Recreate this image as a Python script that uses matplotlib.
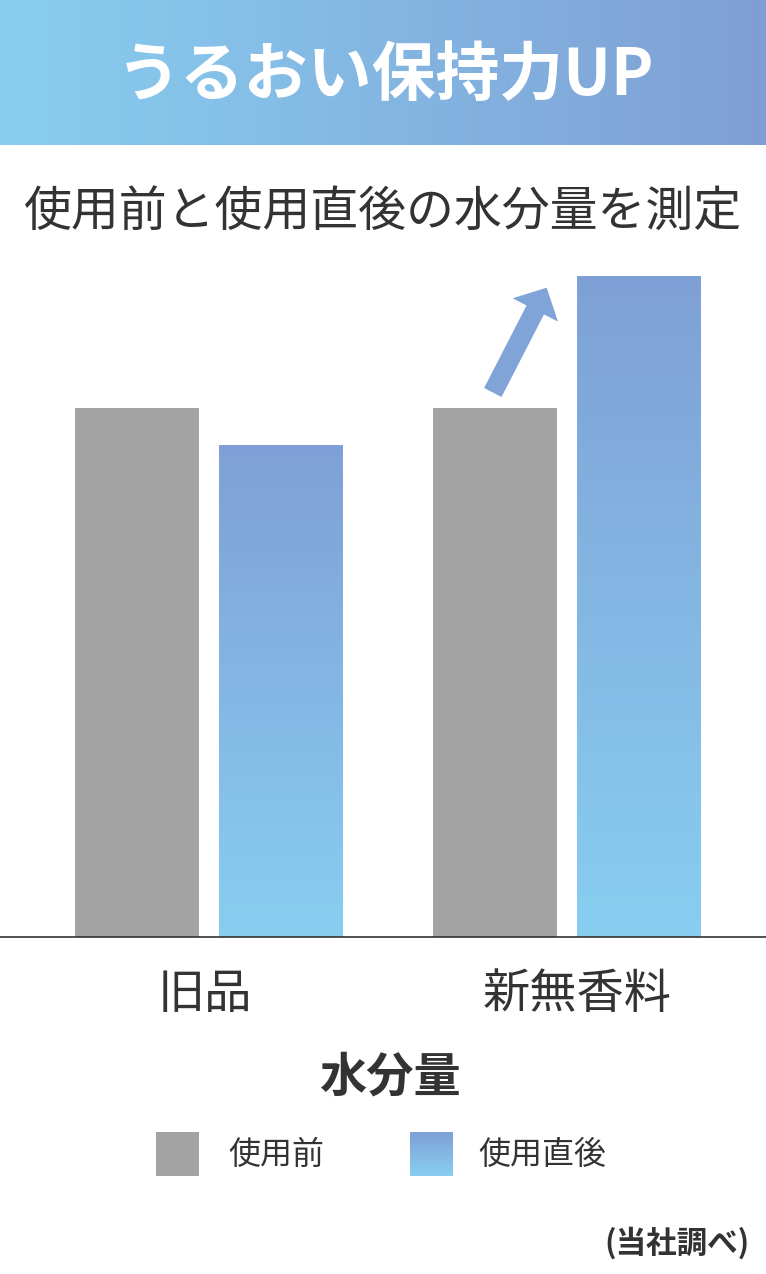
import matplotlib

matplotlib.use("Agg")

import matplotlib.pyplot as plt
import numpy as np
from matplotlib.colors import LinearSegmentedColormap
from matplotlib.patches import FancyArrow, Rectangle

plt.rcParams['font.family'] = ['Noto Sans CJK JP', 'DejaVu Sans']

# ---------------------------------------------------
# DATA
# ---------------------------------------------------

categories = ["旧品", "新無香料"]
series = ["使用前", "使用直後"]
before = [100, 100]
after = [93, 125]

W, H = 766, 1274
TXT = "#333333"
GRAY = "#A3A3A3"

fig = plt.figure(figsize=(W / 100, H / 100), dpi=100)

blue = LinearSegmentedColormap.from_list("blue", ["#88CEF1", "#7FA0D6"])
banner_cm = LinearSegmentedColormap.from_list("banner", ["#88CEF0", "#7F9FD4"])
grad = np.linspace(0, 1, 256).reshape(-1, 1)

# ---------------------------------------------------
# BARS
# ---------------------------------------------------

ax = fig.add_axes([0, (H - 937) / H, 1, (937 - 260) / H])
x = np.arange(len(categories))
off = 72 / 358
w = 124 / 358

ax.bar(x - off, before, w, color=GRAY, zorder=2)
bars = ax.bar(x + off, after, w, color="none", zorder=2)
for b in bars:
    x0, y0 = b.get_x(), b.get_y()
    im = ax.imshow(grad, cmap=blue, origin="lower", aspect="auto",
                   extent=[x0, x0 + b.get_width(), y0, y0 + b.get_height()],
                   zorder=2)
    im.set_clip_path(b)

ax.set_xlim(-209 / 358, 557 / 358)
ax.set_ylim(0, 128)
ax.axhline(0, color=TXT, lw=1.2, clip_on=False, zorder=3)
ax.axis("off")

# labels sit a little off the group centres in the original
for xi, cat, dx in zip(x, categories, [-4, 10]):
    ax.annotate(cat, (xi, 0), xytext=(dx, -58), textcoords="offset pixels",
                ha="center", va="center", fontsize=34, color=TXT)

# ---------------------------------------------------
# OVERLAY (banner, arrow, legend, notes)
# ---------------------------------------------------

ov = fig.add_axes([0, 0, 1, 1], zorder=5)
ov.imshow(np.linspace(0, 1, 256).reshape(1, -1), cmap=banner_cm,
          extent=[0, W, 145, 0], aspect="auto")
ov.set_xlim(0, W)
ov.set_ylim(H, 0)
ov.axis("off")

ov.text(386, 76, "うるおい保持力UP", color="white", fontsize=46,
        weight="bold", ha="center", va="center")

ov.text(383, 213, "使用前と使用直後の水分量を測定", color=TXT, fontsize=34.5,
        ha="center", va="center")

ov.add_patch(FancyArrow(492.8, 392.5, 53.9, -104.8, width=19.6,
                        head_width=51, head_length=25,
                        length_includes_head=True, color="#80A4D8", lw=0))

ov.text(390, 1078, "水分量", color=TXT, fontsize=34, weight="bold",
        ha="center", va="center")

# legend
ov.add_patch(Rectangle((156, 1132), 43, 44, color=GRAY, lw=0))
ov.imshow(grad, cmap=blue, origin="lower", aspect="auto",
          extent=[410, 453, 1176, 1132])
ov.set_xlim(0, W)
ov.set_ylim(H, 0)
ov.text(228, 1155, series[0], color=TXT, fontsize=23, ha="left", va="center")
ov.text(478, 1155, series[1], color=TXT, fontsize=23, ha="left", va="center")

ov.text(750, 1243, "(当社調べ)", color=TXT, fontsize=22, weight="bold",
        ha="right", va="center")

fig.savefig("out.png", dpi=100)
plt.close(fig)
